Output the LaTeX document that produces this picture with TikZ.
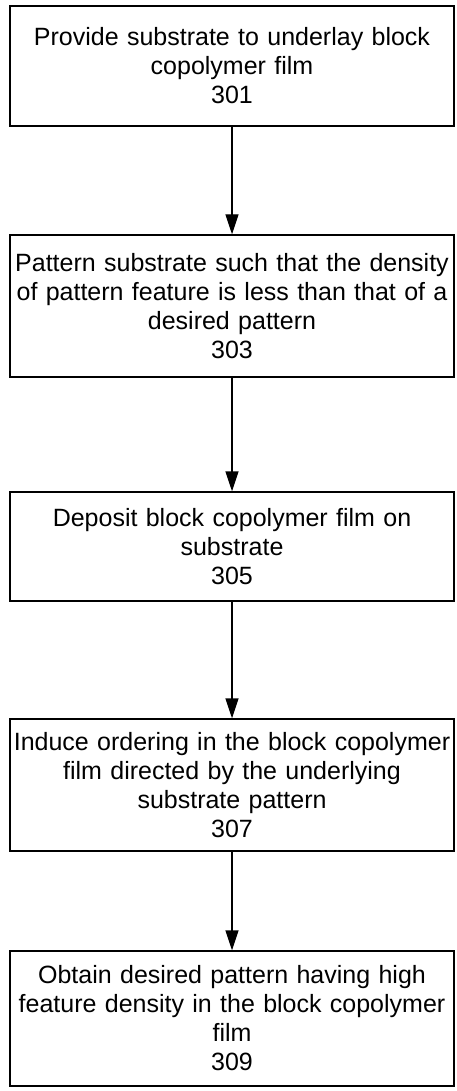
\documentclass[tikz,border=0pt]{standalone}
\usepackage{fontspec}
\setmainfont{Liberation Sans}
\usetikzlibrary{arrows.meta}
\begin{document}
\begin{tikzpicture}[x=1pt,y=1pt,
  stepbox/.style={draw, line width=1.4pt, minimum width=444pt, text width=440pt, align=center, inner sep=0pt,
    font=\fontsize{25}{29}\selectfont},
  flow/.style={line width=1.4pt, -{Triangle[length=20pt,width=13pt]}}]
\useasboundingbox (0,0) rectangle (457,-1091);
\node[stepbox, minimum height=120pt] (s1) at (232,-66) {Provide substrate to underlay block\\copolymer film\\301};
\node[stepbox, minimum height=142pt] (s2) at (232,-306) {Pattern substrate such that the density\\of pattern feature is less than that of a\\desired pattern\\303};
\node[stepbox, minimum height=109pt] (s3) at (232,-546.5) {Deposit block copolymer film on\\substrate\\305};
\node[stepbox, minimum height=132pt] (s4) at (232,-785) {Induce ordering in the block copolymer\\film directed by the underlying\\substrate pattern\\307};
\node[stepbox, minimum height=135pt] (s5) at (232,-1018.5) {Obtain desired pattern having high\\feature density in the block copolymer\\film\\309};
\draw[flow] (s1) -- (s2);
\draw[flow] (s2) -- (s3);
\draw[flow] (s3) -- (s4);
\draw[flow] (s4) -- (s5);
\end{tikzpicture}
\end{document}
